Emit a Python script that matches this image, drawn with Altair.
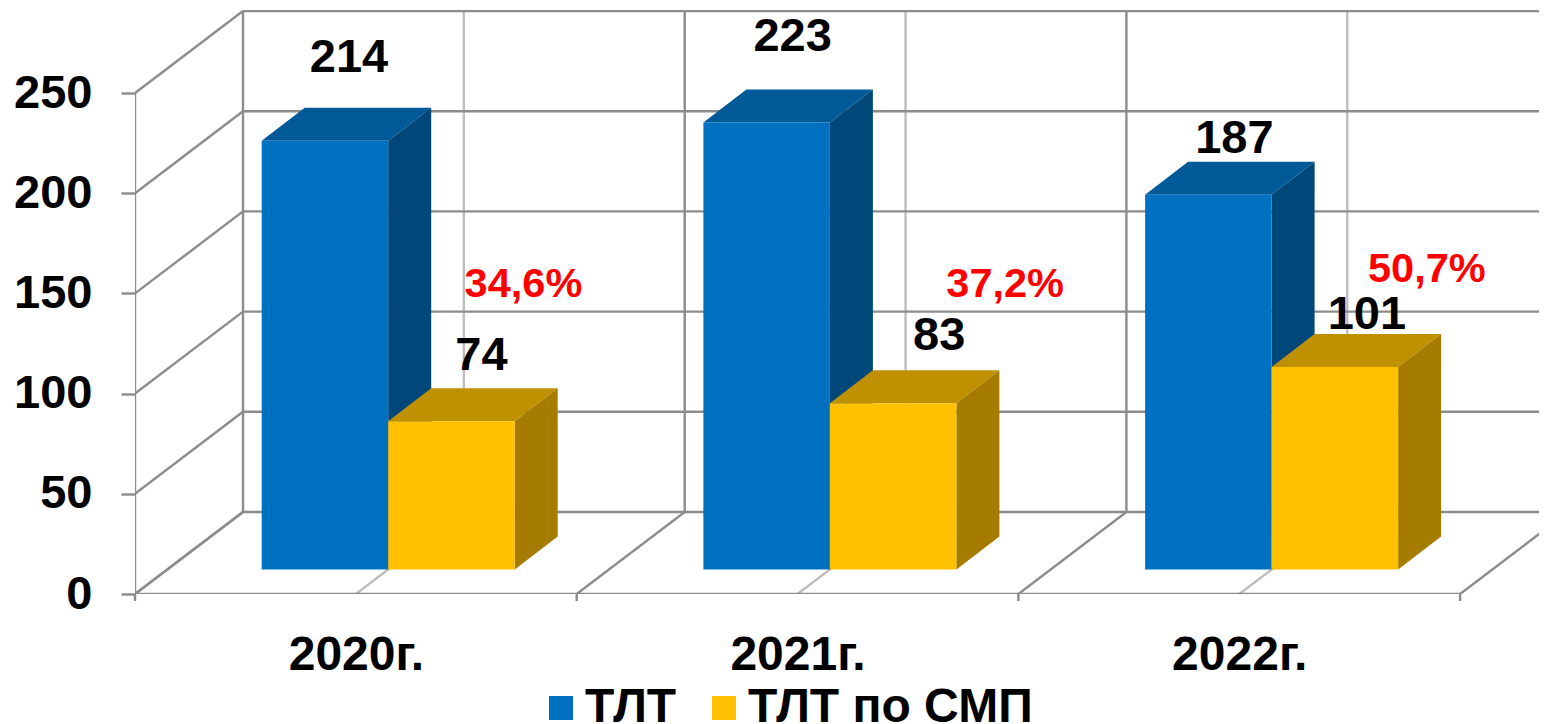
import altair as alt
import pandas as pd

# ---- chart values
categories = ["2020г.", "2021г.", "2022г."]
series_names = ["ТЛТ", "ТЛТ по СМП"]
tlt_values = [214, 223, 187]
smp_values = [74, 83, 101]
share_labels = ["34,6%", "37,2%", "50,7%"]
y_ticks = [0, 50, 100, 150, 200, 250]

# ---- 3D projection settings (category units on x, value units on y)
PX_X = 441.7
PX_Y = 2.004
PLOT_W = 1404
PLOT_H = 584
WALL_DX = 108 / PX_X
WALL_DY = 82 / PX_Y
FLOOR_DY = 24.5 / PX_Y
BAR_LEFT = 126.7 / PX_X
BAR_W = 126.5 / PX_X
BAR_DX = 43 / PX_X
BAR_DY = 33 / PX_Y
TOP_Y = 250

GRID = "#8C8C8C"
LIGHT = "#BEBEBE"
FONT = "Liberation Sans"

x_scale = alt.Scale(domain=[0, PLOT_W / PX_X], nice=False, zero=False)
y_scale = alt.Scale(domain=[0, PLOT_H / PX_Y], nice=False, zero=False)

# ---- wall, floor and axis lines
lines = []
def seg(x, y, x2, y2, kind="dark"):
    lines.append(dict(x=x, y=y, x2=x2, y2=y2, kind=kind))

for t in y_ticks:
    seg(0, t, WALL_DX, t + WALL_DY)                     # left wall
    seg(WALL_DX, t + WALL_DY, PLOT_W / PX_X + 1, t + WALL_DY)   # back wall
seg(0, 0, 0, TOP_Y)
seg(0, 0, len(categories), 0)
for i in range(len(categories) + 1):
    seg(i, 0, i + WALL_DX, WALL_DY)
    if i < len(categories):
        seg(i + WALL_DX, WALL_DY, i + WALL_DX, TOP_Y + WALL_DY)
for i in range(len(categories)):
    seg(i + 0.5, 0, i + 0.5 + WALL_DX, WALL_DY, "light")
    seg(i + 0.5 + WALL_DX, WALL_DY, i + 0.5 + WALL_DX, TOP_Y + WALL_DY, "light")
lines_df = pd.DataFrame(lines)

# small tick marks below the front axis
ticks_df = pd.DataFrame([dict(x=float(i), y=0.0, y2=-3.5) for i in range(len(categories) + 1)])

label_expr = "[" + ",".join(f"'{c}'" for c in categories) + "][floor(datum.value)]"

x_axis = alt.Axis(values=[0.5, 1.5, 2.5], labelExpr=label_expr, title=None, domain=False, ticks=False,
                  grid=False, labelFont=FONT, labelFontSize=48, labelFontWeight="bold", labelColor="black",
                  labelPadding=37, labelOverlap=False, labelFlush=False, labelBound=False)
y_axis = alt.Axis(values=y_ticks, title=None, domain=False, grid=False, tickSize=14, tickWidth=2.4, tickColor=GRID,
                  labelFont=FONT, labelFontSize=47, labelFontWeight="bold", labelColor="black", labelPadding=29,
                  labelOverlap=False, labelFlush=False, labelBound=False)
X = alt.X("x:Q", scale=x_scale, axis=x_axis)
Y = alt.Y("y:Q", scale=y_scale, axis=y_axis)

def line_layer(kind, width, color):
    return alt.Chart(lines_df[lines_df.kind == kind]).mark_rule(clip=True, color=color, strokeWidth=width).encode(
        x=X, y=Y, x2="x2:Q", y2="y2:Q")

layers = [line_layer("light", 2.4, LIGHT), line_layer("dark", 2.4, GRID),
          alt.Chart(ticks_df).mark_rule(color=GRID, strokeWidth=2.4).encode(x=X, y=Y, y2="y2:Q")]

# ---- bars: top face, side face, front face for each series
styles = [
    dict(values=tlt_values, name=series_names[0], pos=0, top="#005A97", side="#00487A"),
    dict(values=smp_values, name=series_names[1], pos=1, top="#BF9000", side="#A67C00"),
]
legend = alt.Legend(orient="none", legendX=402, legendY=674, direction="horizontal", columns=2,
                    title=None, symbolType="square", symbolSize=576, symbolStrokeWidth=0,
                    labelFont=FONT, labelFontSize=48, labelFontWeight="bold", labelColor="black",
                    labelLimit=400, columnPadding=23, padding=0, labelOffset=0)
for st in styles:
    top_rows, side_rows, front_rows = [], [], []
    for i, v in enumerate(st["values"]):
        l = i + BAR_LEFT + st["pos"] * BAR_W
        r = l + BAR_W
        h = v + FLOOR_DY
        top_rows += [dict(b=i, y=h, x=l, x2=r), dict(b=i, y=h + BAR_DY, x=l + BAR_DX, x2=r + BAR_DX)]
        side_rows += [dict(b=i, x=r, y=FLOOR_DY, y2=h), dict(b=i, x=r + BAR_DX, y=FLOOR_DY + BAR_DY, y2=h + BAR_DY)]
        front_rows.append(dict(x=l, x2=r, y=FLOOR_DY, y2=h, series=st["name"]))
    layers.append(alt.Chart(pd.DataFrame(top_rows)).mark_area(orient="horizontal", color=st["top"]).encode(
        y=Y, x=X, x2="x2:Q", detail="b:N"))
    layers.append(alt.Chart(pd.DataFrame(side_rows)).mark_area(orient="vertical", color=st["side"]).encode(
        x=X, y=Y, y2="y2:Q", detail="b:N"))
    layers.append(alt.Chart(pd.DataFrame(front_rows)).mark_rect().encode(
        x=X, x2="x2:Q", y=Y, y2="y2:Q",
        color=alt.Color("series:N", scale=alt.Scale(domain=series_names, range=["#0070C0", "#FFC000"]), legend=legend)))

# ---- value labels (placement nudges in pixels from the bar's top-centre)
nudges = {
    0: [(24, 83), (26, 86), (26, 56)],
    1: [(30, 65), (46, 67), (32, 52)],
}
text_rows = []
for st in styles:
    for i, v in enumerate(st["values"]):
        dx, dy = nudges[st["pos"]][i]
        cx = i + BAR_LEFT + (st["pos"] + 0.5) * BAR_W
        text_rows.append(dict(x=cx + dx / PX_X, y=v + FLOOR_DY + dy / PX_Y, t=str(v)))
share_nudges = [(72, 136), (112, 118), (92, 97)]
share_rows = []
for i, (s, v) in enumerate(zip(share_labels, smp_values)):
    dx, dy = share_nudges[i]
    cx = i + BAR_LEFT + 1.5 * BAR_W
    share_rows.append(dict(x=cx + dx / PX_X, y=v + FLOOR_DY + dy / PX_Y, t=s))

layers.append(alt.Chart(pd.DataFrame(text_rows)).mark_text(font=FONT, fontSize=47, fontWeight="bold", color="black").encode(
    x=X, y=Y, text="t:N"))
layers.append(alt.Chart(pd.DataFrame(share_rows)).mark_text(font=FONT, fontSize=41.5, fontWeight="bold", color="#FF0000").encode(
    x=X, y=Y, text="t:N"))

chart = alt.layer(*layers).properties(
    width=PLOT_W, height=PLOT_H,
    autosize=alt.AutoSizeParams(type="none"),
    padding={"left": 127, "top": 2, "right": 0, "bottom": 130},
).configure_view(stroke=None)

chart.save("out.html", embed_options={"renderer": "svg", "actions": False})
